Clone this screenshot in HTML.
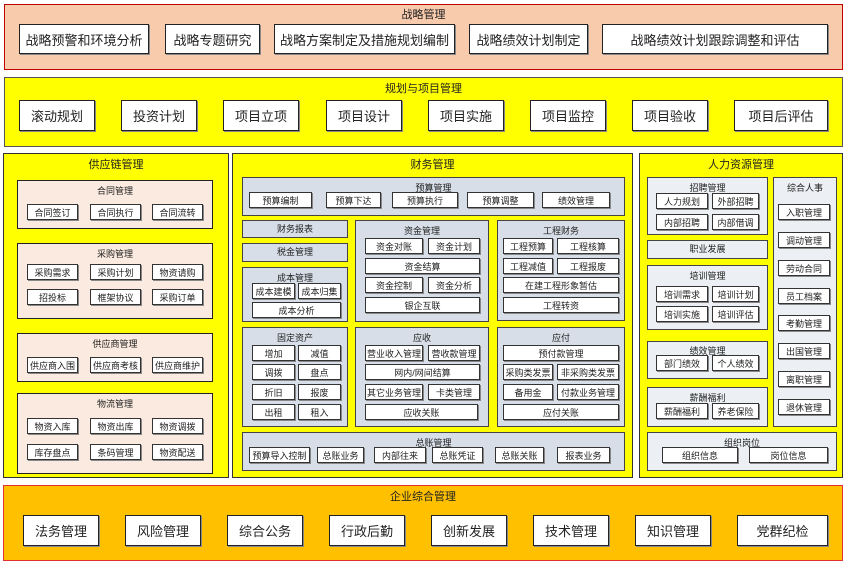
<!DOCTYPE html>
<html><head><meta charset="utf-8"><style>
body{margin:0;width:848px;height:564px;background:#fff;position:relative;overflow:hidden;font-family:"Liberation Sans","Noto Sans CJK SC",sans-serif;color:#222}
div{position:absolute;box-sizing:border-box}
.w{background:#fff;border:1px solid #333;box-shadow:1px 1px 0 #888;display:flex;align-items:center;justify-content:center;font-size:9px;white-space:nowrap}
.L{font-size:13px;border:1px solid #222}
.t{text-align:center;font-size:9px}
.sc{background:#fbeadf;border:1px solid #222}
.fc{background:#d7dee8;border:1px solid #444}
.hc{background:#eceff3;border:1px solid #444}
</style></head><body>
<!-- 战略管理 -->
<div style="left:4px;top:4px;width:839px;height:66px;background:#f8cbad;border:1px solid #c00000"></div>
<div class="t" style="left:4px;top:6px;width:839px;font-size:11px">战略管理</div>
<div class="w L" style="left:19px;top:24px;width:130px;height:30px">战略预警和环境分析</div>
<div class="w L" style="left:165px;top:24px;width:95px;height:30px">战略专题研究</div>
<div class="w L" style="left:274px;top:24px;width:181px;height:30px">战略方案制定及措施规划编制</div>
<div class="w L" style="left:469px;top:24px;width:119px;height:30px">战略绩效计划制定</div>
<div class="w L" style="left:602px;top:24px;width:226px;height:30px">战略绩效计划跟踪调整和评估</div>
<!-- 规划与项目管理 -->
<div style="left:4px;top:77px;width:839px;height:70px;background:#ffff00;border:1px solid #555"></div>
<div class="t" style="left:4px;top:80px;width:839px;font-size:11px">规划与项目管理</div>
<div class="w L" style="left:19px;top:100px;width:76px;height:31px">滚动规划</div>
<div class="w L" style="left:121px;top:100px;width:76px;height:31px">投资计划</div>
<div class="w L" style="left:223px;top:100px;width:76px;height:31px">项目立项</div>
<div class="w L" style="left:326px;top:100px;width:76px;height:31px">项目设计</div>
<div class="w L" style="left:428px;top:100px;width:76px;height:31px">项目实施</div>
<div class="w L" style="left:530px;top:100px;width:76px;height:31px">项目监控</div>
<div class="w L" style="left:632px;top:100px;width:76px;height:31px">项目验收</div>
<div class="w L" style="left:734px;top:100px;width:94px;height:31px">项目后评估</div>
<!-- 供应链管理 -->
<div style="left:3px;top:153px;width:226px;height:325px;background:#ffff00;border:1px solid #333"></div>
<div class="t" style="left:3px;top:156px;width:226px;font-size:11px">供应链管理</div>
<div class="sc" style="left:17px;top:180px;width:196px;height:49px"></div>
<div class="t" style="left:17px;top:184px;width:196px">合同管理</div>
<div class="w" style="left:27px;top:204px;width:51px;height:16px">合同签订</div>
<div class="w" style="left:90px;top:204px;width:51px;height:16px">合同执行</div>
<div class="w" style="left:152px;top:204px;width:51px;height:16px">合同流转</div>
<div class="sc" style="left:17px;top:243px;width:196px;height:76px"></div>
<div class="t" style="left:17px;top:247px;width:196px">采购管理</div>
<div class="w" style="left:27px;top:264px;width:51px;height:16px">采购需求</div>
<div class="w" style="left:90px;top:264px;width:51px;height:16px">采购计划</div>
<div class="w" style="left:152px;top:264px;width:51px;height:16px">物资请购</div>
<div class="w" style="left:27px;top:289px;width:51px;height:16px">招投标</div>
<div class="w" style="left:90px;top:289px;width:51px;height:16px">框架协议</div>
<div class="w" style="left:152px;top:289px;width:51px;height:16px">采购订单</div>
<div class="sc" style="left:17px;top:333px;width:196px;height:49px"></div>
<div class="t" style="left:17px;top:337px;width:196px">供应商管理</div>
<div class="w" style="left:27px;top:357px;width:51px;height:16px">供应商入围</div>
<div class="w" style="left:90px;top:357px;width:51px;height:16px">供应商考核</div>
<div class="w" style="left:152px;top:357px;width:51px;height:16px">供应商维护</div>
<div class="sc" style="left:17px;top:393px;width:196px;height:81px"></div>
<div class="t" style="left:17px;top:397px;width:196px">物流管理</div>
<div class="w" style="left:27px;top:418px;width:51px;height:16px">物资入库</div>
<div class="w" style="left:90px;top:418px;width:51px;height:16px">物资出库</div>
<div class="w" style="left:152px;top:418px;width:51px;height:16px">物资调拨</div>
<div class="w" style="left:27px;top:444px;width:51px;height:16px">库存盘点</div>
<div class="w" style="left:90px;top:444px;width:51px;height:16px">条码管理</div>
<div class="w" style="left:152px;top:444px;width:51px;height:16px">物资配送</div>
<!-- 财务管理 -->
<div style="left:232px;top:153px;width:401px;height:325px;background:#ffff00;border:1px solid #333"></div>
<div class="t" style="left:232px;top:156px;width:401px;font-size:11px">财务管理</div>
<div class="fc" style="left:242px;top:177px;width:383px;height:39px"></div>
<div class="t" style="left:242px;top:181px;width:383px">预算管理</div>
<div class="w" style="left:249px;top:192px;width:63px;height:16px">预算编制</div>
<div class="w" style="left:326px;top:192px;width:55px;height:16px">预算下达</div>
<div class="w" style="left:392px;top:192px;width:66px;height:16px">预算执行</div>
<div class="w" style="left:467px;top:192px;width:67px;height:16px">预算调整</div>
<div class="w" style="left:542px;top:192px;width:68px;height:16px">绩效管理</div>
<div class="fc t" style="left:242px;top:220px;width:106px;height:18px;line-height:16px">财务报表</div>
<div class="fc t" style="left:242px;top:243px;width:106px;height:19px;line-height:17px">税金管理</div>
<div class="fc" style="left:242px;top:267px;width:106px;height:55px"></div>
<div class="t" style="left:242px;top:271px;width:106px">成本管理</div>
<div class="w" style="left:252px;top:283px;width:43px;height:16px">成本建模</div>
<div class="w" style="left:298px;top:283px;width:43px;height:16px">成本归集</div>
<div class="w" style="left:252px;top:302px;width:89px;height:16px">成本分析</div>
<div class="fc" style="left:355px;top:220px;width:134px;height:102px"></div>
<div class="t" style="left:355px;top:224px;width:134px">资金管理</div>
<div class="w" style="left:365px;top:238px;width:58px;height:16px">资金对账</div>
<div class="w" style="left:428px;top:238px;width:52px;height:16px">资金计划</div>
<div class="w" style="left:365px;top:258px;width:115px;height:16px">资金结算</div>
<div class="w" style="left:365px;top:277px;width:58px;height:16px">资金控制</div>
<div class="w" style="left:428px;top:277px;width:52px;height:16px">资金分析</div>
<div class="w" style="left:365px;top:297px;width:115px;height:16px">银企互联</div>
<div class="fc" style="left:497px;top:220px;width:128px;height:101px"></div>
<div class="t" style="left:497px;top:224px;width:128px">工程财务</div>
<div class="w" style="left:503px;top:238px;width:50px;height:16px">工程预算</div>
<div class="w" style="left:557px;top:238px;width:62px;height:16px">工程核算</div>
<div class="w" style="left:503px;top:258px;width:50px;height:16px">工程减值</div>
<div class="w" style="left:557px;top:258px;width:62px;height:16px">工程报废</div>
<div class="w" style="left:503px;top:277px;width:116px;height:16px">在建工程形象暂估</div>
<div class="w" style="left:503px;top:297px;width:116px;height:16px">工程转资</div>
<div class="fc" style="left:242px;top:327px;width:106px;height:100px"></div>
<div class="t" style="left:242px;top:331px;width:106px">固定资产</div>
<div class="w" style="left:252px;top:345px;width:43px;height:16px">增加</div>
<div class="w" style="left:298px;top:345px;width:43px;height:16px">减值</div>
<div class="w" style="left:252px;top:364px;width:43px;height:16px">调拨</div>
<div class="w" style="left:298px;top:364px;width:43px;height:16px">盘点</div>
<div class="w" style="left:252px;top:384px;width:43px;height:16px">折旧</div>
<div class="w" style="left:298px;top:384px;width:43px;height:16px">报废</div>
<div class="w" style="left:252px;top:404px;width:43px;height:16px">出租</div>
<div class="w" style="left:298px;top:404px;width:43px;height:16px">租入</div>
<div class="fc" style="left:355px;top:327px;width:134px;height:100px"></div>
<div class="t" style="left:355px;top:331px;width:134px">应收</div>
<div class="w" style="left:365px;top:345px;width:58px;height:16px">营业收入管理</div>
<div class="w" style="left:428px;top:345px;width:52px;height:16px">营收款管理</div>
<div class="w" style="left:365px;top:364px;width:115px;height:16px">网内/网间结算</div>
<div class="w" style="left:365px;top:384px;width:58px;height:16px">其它业务管理</div>
<div class="w" style="left:428px;top:384px;width:52px;height:16px">卡类管理</div>
<div class="w" style="left:365px;top:404px;width:113px;height:16px">应收关账</div>
<div class="fc" style="left:497px;top:327px;width:128px;height:100px"></div>
<div class="t" style="left:497px;top:331px;width:128px">应付</div>
<div class="w" style="left:503px;top:345px;width:116px;height:16px">预付款管理</div>
<div class="w" style="left:503px;top:364px;width:50px;height:16px">采购类发票</div>
<div class="w" style="left:557px;top:364px;width:62px;height:16px">非采购类发票</div>
<div class="w" style="left:503px;top:384px;width:50px;height:16px">备用金</div>
<div class="w" style="left:557px;top:384px;width:62px;height:16px">付款业务管理</div>
<div class="w" style="left:503px;top:404px;width:116px;height:16px">应付关账</div>
<div class="fc" style="left:242px;top:432px;width:383px;height:39px"></div>
<div class="t" style="left:242px;top:436px;width:383px">总账管理</div>
<div class="w" style="left:249px;top:447px;width:61px;height:16px">预算导入控制</div>
<div class="w" style="left:317px;top:447px;width:47px;height:16px">总账业务</div>
<div class="w" style="left:374px;top:447px;width:52px;height:16px">内部往来</div>
<div class="w" style="left:432px;top:447px;width:51px;height:16px">总账凭证</div>
<div class="w" style="left:495px;top:447px;width:49px;height:16px">总账关账</div>
<div class="w" style="left:557px;top:447px;width:53px;height:16px">报表业务</div>
<!-- 人力资源管理 -->
<div style="left:639px;top:153px;width:204px;height:325px;background:#ffff00;border:1px solid #333"></div>
<div class="t" style="left:639px;top:156px;width:204px;font-size:11px">人力资源管理</div>
<div class="hc" style="left:647px;top:177px;width:121px;height:58px"></div>
<div class="t" style="left:647px;top:181px;width:121px">招聘管理</div>
<div class="w" style="left:656px;top:193px;width:52px;height:16px">人力规划</div>
<div class="w" style="left:712px;top:193px;width:47px;height:16px">外部招聘</div>
<div class="w" style="left:656px;top:214px;width:52px;height:16px">内部招聘</div>
<div class="w" style="left:712px;top:214px;width:47px;height:16px">内部借调</div>
<div class="hc t" style="left:647px;top:240px;width:121px;height:19px;line-height:17px">职业发展</div>
<div class="hc" style="left:647px;top:265px;width:121px;height:65px"></div>
<div class="t" style="left:647px;top:269px;width:121px">培训管理</div>
<div class="w" style="left:656px;top:286px;width:52px;height:16px">培训需求</div>
<div class="w" style="left:712px;top:286px;width:47px;height:16px">培训计划</div>
<div class="w" style="left:656px;top:306px;width:52px;height:16px">培训实施</div>
<div class="w" style="left:712px;top:306px;width:47px;height:16px">培训评估</div>
<div class="hc" style="left:647px;top:341px;width:121px;height:38px"></div>
<div class="t" style="left:647px;top:344px;width:121px">绩效管理</div>
<div class="w" style="left:656px;top:355px;width:52px;height:16px">部门绩效</div>
<div class="w" style="left:712px;top:355px;width:47px;height:16px">个人绩效</div>
<div class="hc" style="left:647px;top:387px;width:121px;height:40px"></div>
<div class="t" style="left:647px;top:391px;width:121px">薪酬福利</div>
<div class="w" style="left:656px;top:403px;width:52px;height:16px">薪酬福利</div>
<div class="w" style="left:712px;top:403px;width:47px;height:16px">养老保险</div>
<div class="hc" style="left:773px;top:177px;width:64px;height:250px"></div>
<div class="t" style="left:773px;top:181px;width:64px">综合人事</div>
<div class="w" style="left:778px;top:204px;width:52px;height:16px">入职管理</div>
<div class="w" style="left:778px;top:232px;width:52px;height:16px">调动管理</div>
<div class="w" style="left:778px;top:260px;width:52px;height:16px">劳动合同</div>
<div class="w" style="left:778px;top:288px;width:52px;height:16px">员工档案</div>
<div class="w" style="left:778px;top:315px;width:52px;height:16px">考勤管理</div>
<div class="w" style="left:778px;top:343px;width:52px;height:16px">出国管理</div>
<div class="w" style="left:778px;top:371px;width:52px;height:16px">离职管理</div>
<div class="w" style="left:778px;top:399px;width:52px;height:16px">退休管理</div>
<div class="hc" style="left:647px;top:432px;width:190px;height:39px"></div>
<div class="t" style="left:647px;top:436px;width:190px">组织岗位</div>
<div class="w" style="left:662px;top:447px;width:76px;height:16px">组织信息</div>
<div class="w" style="left:749px;top:447px;width:79px;height:16px">岗位信息</div>
<!-- 企业综合管理 -->
<div style="left:3px;top:485px;width:840px;height:76px;background:#ffc000;border:1px solid #e03030"></div>
<div class="t" style="left:3px;top:488px;width:840px;font-size:11px">企业综合管理</div>
<div class="w L" style="left:23px;top:515px;width:76px;height:31px">法务管理</div>
<div class="w L" style="left:125px;top:515px;width:76px;height:31px">风险管理</div>
<div class="w L" style="left:227px;top:515px;width:76px;height:31px">综合公务</div>
<div class="w L" style="left:329px;top:515px;width:76px;height:31px">行政后勤</div>
<div class="w L" style="left:431px;top:515px;width:76px;height:31px">创新发展</div>
<div class="w L" style="left:533px;top:515px;width:76px;height:31px">技术管理</div>
<div class="w L" style="left:635px;top:515px;width:76px;height:31px">知识管理</div>
<div class="w L" style="left:737px;top:515px;width:91px;height:31px">党群纪检</div>
</body></html>
